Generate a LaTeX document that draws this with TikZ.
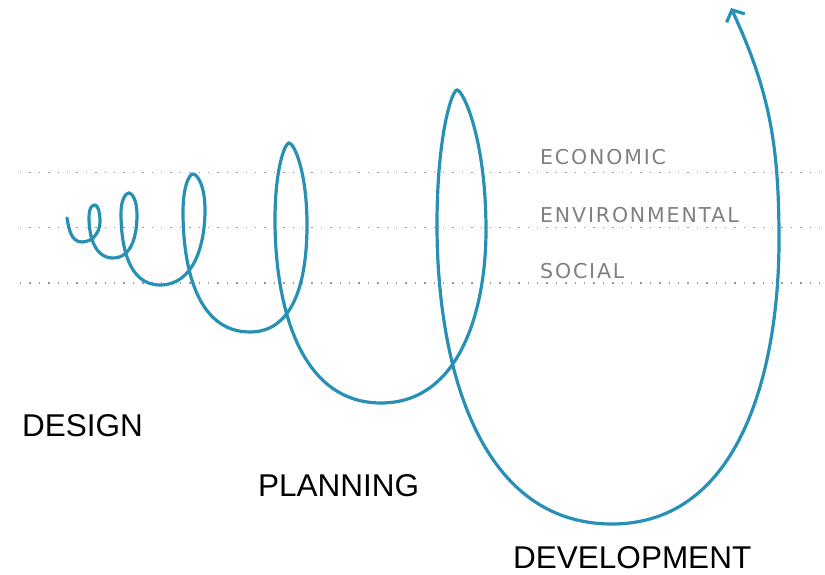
\documentclass[tikz,border=0pt]{standalone}
\usepackage{fontspec}
\setmainfont{Liberation Sans}
\newfontfamily\lblfont[LetterSpace=9]{DejaVu Sans}
\usetikzlibrary{arrows.meta}
\definecolor{spiral}{RGB}{40,144,180}
\definecolor{dotgray}{RGB}{150,150,150}
\definecolor{lblgray}{RGB}{128,128,128}
\begin{document}
\begin{tikzpicture}[x=1pt,y=1pt,
  guide/.style={dotgray,line width=1.6pt,dash pattern=on 1.4pt off 8pt},
  dimlabel/.style={anchor=base west,inner sep=0pt,text=lblgray,font=\lblfont\fontsize{20.5}{20.5}\selectfont},
  phase/.style={anchor=base west,inner sep=0pt,text=black,font=\fontsize{31.5}{32}\selectfont},
  spiralline/.style={spiral,line width=3.2pt,line cap=round}]
\useasboundingbox (0,0) rectangle (825,575);
% guides
\coordinate (g1a) at (20,402.3); \coordinate (g1b) at (825,402.3);
\coordinate (g2a) at (20,347.3); \coordinate (g2b) at (825,347.3);
\coordinate (g3a) at (20,291.7); \coordinate (g3b) at (825,291.7);
\draw[guide] (g1a) -- (g1b);
\draw[guide] (g2a) -- (g2b);
\draw[guide] (g3a) -- (g3b);
\node[dimlabel] (eco) at (540,410) {ECONOMIC};
\node[dimlabel] (env) at (540,352) {ENVIRONMENTAL};
\node[dimlabel] (soc) at (540,296) {SOCIAL};
\node[phase] (design) at (22,138) {DESIGN};
\node[phase] (planning) at (258,78) {PLANNING};
\node[phase] (development) at (513,6) {DEVELOPMENT};
% spiral points
\coordinate (A0) at (67,357);
\coordinate (B1) at (82,333);
\coordinate (R1) at (100,353);
\coordinate (T1) at (95,370);
\coordinate (L1) at (89,357);
\coordinate (B2) at (113,317);
\coordinate (R2) at (137,360);
\coordinate (T2) at (129,382);
\coordinate (L2) at (121,362);
\coordinate (B3) at (160,290);
\coordinate (R3) at (205,365);
\coordinate (T3) at (193,401);
\coordinate (L3) at (183,363);
\coordinate (B4) at (250,243);
\coordinate (R4) at (307,350);
\coordinate (T4) at (289,432);
\coordinate (L4) at (275,355);
\coordinate (B5) at (381,172);
\coordinate (R5) at (486,345);
\coordinate (T5) at (457,485);
\coordinate (L5) at (437,350);
\coordinate (B6) at (612,51);
\coordinate (R6) at (779,335);
\coordinate (E) at (731,567);
\draw[spiralline,-{Straight Barb[length=9pt,width=20pt]}]
  (A0) to[out=-80,in=180] (B1)
  to[out=0,in=-90] (R1) .. controls +(0,11) and +(2.5,0) .. (T1) .. controls +(-2.5,0) and +(0,11) .. (L1) to[out=-90,in=180] (B2)
  to[out=0,in=-90] (R2) .. controls +(0,15) and +(3,0) .. (T2) .. controls +(-3,0) and +(0,14) .. (L2) to[out=-90,in=180] (B3)
  to[out=0,in=-90] (R3) .. controls +(0,25) and +(4,0) .. (T3) .. controls +(-4,0) and +(0,25) .. (L3) to[out=-90,in=180] (B4)
  to[out=0,in=-90] (R4) .. controls +(0,54) and +(5,0) .. (T4) .. controls +(-4,0) and +(0,52) .. (L4) to[out=-90,in=180] (B5)
  to[out=0,in=-90] (R5) .. controls +(0,92) and +(6,0) .. (T5) .. controls +(-5,0) and +(0,90) .. (L5) to[out=-90,in=180] (B6)
  to[out=0,in=-90] (R6) to[out=90,in=-65] (E);
\end{tikzpicture}
\end{document}
